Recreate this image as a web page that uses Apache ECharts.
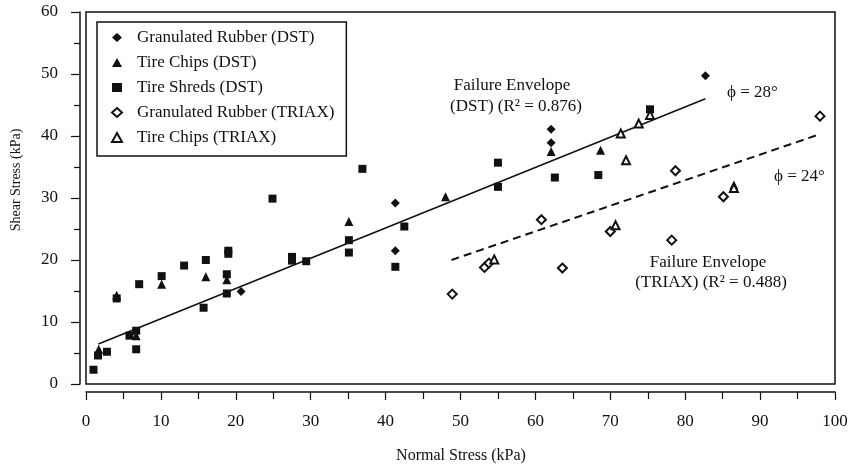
<!DOCTYPE html>
<html><head><meta charset="utf-8">
<script src="https://cdn.jsdelivr.net/npm/echarts@6/dist/echarts.min.js"></script>
<style>html,body{margin:0;padding:0;background:#fff}#c{width:858px;height:467px}</style>
</head><body><div id="c"></div>
<script>
// Data (Normal Stress kPa, Shear Stress kPa)
var seriesNames = ['Granulated Rubber (DST)','Tire Chips (DST)','Tire Shreds (DST)','Granulated Rubber (TRIAX)','Tire Chips (TRIAX)'];
var grDST = [[20.7,14.9],[41.3,29.2],[41.3,21.5],[62.1,41.1],[62.1,38.9],[82.7,49.7]];
var tcDST = [[1.7,5.6],[4.1,14.3],[6.7,7.8],[10.1,16.1],[16.0,17.3],[18.8,16.8],[35.1,26.2],[48.0,30.2],[62.1,37.5],[68.7,37.7],[86.5,32.1]];
var tsDST = [[1.0,2.3],[1.6,4.6],[2.8,5.2],[4.1,13.8],[5.8,7.8],[6.7,8.6],[6.7,5.6],[7.1,16.1],[10.1,17.4],[13.1,19.1],[15.7,12.3],[16.0,20.0],[19.0,21.5],[19.0,21.0],[18.8,17.7],[18.8,14.6],[24.9,29.9],[27.5,20.5],[27.5,19.9],[29.4,19.8],[35.1,23.2],[35.1,21.2],[36.9,34.7],[41.3,18.9],[42.5,25.4],[55.0,35.7],[55.0,31.8],[62.6,33.3],[68.4,33.7],[75.3,44.3]];
var grTRIAX = [[48.9,14.5],[53.2,18.8],[53.8,19.5],[60.8,26.5],[63.6,18.7],[70.0,24.6],[78.2,23.2],[78.7,34.4],[85.1,30.2],[98.0,43.2]];
var tcTRIAX = [[54.5,20.1],[70.7,25.6],[71.4,40.4],[72.1,36.1],[73.8,42.0],[75.3,43.4],[86.5,31.6]];
var dstFitX = [1.65, 82.7], dstFitY = [6.45, 46.0];
var triaxFitX = [48.8, 98.0], triaxFitY = [20.0, 40.3];
var xTicks = {min:0, max:100, step:10};
var yTicks = {min:0, max:60, step:10};

function pairs(xs, ys){ return xs.map(function(x,i){ return [x, ys[i]]; }); }
var FONT = '"Liberation Serif","Times New Roman",serif';
var INK = '#111';
var chart = echarts.init(document.getElementById('c'));
function sc(name, data, symbol, size){
  var empty = symbol.indexOf('empty')===0;
  return {name:name, type:'scatter', data:data, symbol:symbol, symbolSize:size,
    itemStyle:{color:INK, borderColor:INK, borderWidth: empty?1.1:0, opacity:1}, z:3};
}
chart.setOption({
  animation:false,
  backgroundColor:'#fff',
  grid:{left:86, right:23, top:12, bottom:83, show:true, borderColor:INK, borderWidth:1.5, backgroundColor:'transparent'},
  xAxis:{type:'value', min:xTicks.min, max:xTicks.max, interval:xTicks.step, offset:8,
    axisLine:{show:true, onZero:false, lineStyle:{color:INK, width:1.5}},
    axisTick:{show:true, inside:false, length:8, lineStyle:{color:INK, width:1.2}},
    minorTick:{show:true, splitNumber:2, length:7, lineStyle:{color:INK, width:1.2}},
    splitLine:{show:false}, minorSplitLine:{show:false},
    axisLabel:{color:INK, fontFamily:FONT, fontSize:17, margin:21}},
  yAxis:{type:'value', min:yTicks.min, max:yTicks.max, interval:yTicks.step, offset:6,
    axisLine:{show:true, onZero:false, lineStyle:{color:INK, width:1.5}},
    axisTick:{show:true, inside:false, length:9, lineStyle:{color:INK, width:1.2}},
    minorTick:{show:true, splitNumber:2, length:6, lineStyle:{color:INK, width:1.2}},
    splitLine:{show:false}, minorSplitLine:{show:false},
    axisLabel:{color:INK, fontFamily:FONT, fontSize:17, margin:22}},
  legend:{data:seriesNames, orient:'vertical', left:97, top:22,
    padding:[7,12,10,14], itemWidth:10, itemHeight:9, itemGap:8,
    borderColor:INK, borderWidth:1.5, backgroundColor:'#fff',
    textStyle:{color:INK, fontFamily:FONT, fontSize:17, lineHeight:16, padding:[0,0,0,10]}},
  series:[
    sc(seriesNames[0], grDST, 'diamond', 9),
    sc(seriesNames[1], tcDST, 'triangle', 9),
    sc(seriesNames[2], tsDST, 'rect', 8),
    sc(seriesNames[3], grTRIAX, 'emptyDiamond', 9),
    sc(seriesNames[4], tcTRIAX, 'emptyTriangle', 8),
    {name:'DST fit', type:'line', data:pairs(dstFitX, dstFitY), symbol:'none', lineStyle:{color:INK, width:1.6}, z:2},
    {name:'TRIAX fit', type:'line', data:pairs(triaxFitX, triaxFitY), symbol:'none', lineStyle:{color:INK, width:2, type:[8,5]}, z:2}
  ],
  graphic:[
    {type:'text', x:512, y:86, style:{text:'Failure Envelope', font:'17px '+FONT, fill:INK, align:'center', verticalAlign:'middle'}},
    {type:'text', x:516, y:107, style:{text:'(DST) (R² = 0.876)', font:'17px '+FONT, fill:INK, align:'center', verticalAlign:'middle'}},
    {type:'text', x:727, y:93, style:{text:'ϕ = 28°', font:'17px '+FONT, fill:INK, align:'left', verticalAlign:'middle'}},
    {type:'text', x:774, y:177, style:{text:'ϕ = 24°', font:'17px '+FONT, fill:INK, align:'left', verticalAlign:'middle'}},
    {type:'text', x:708, y:263, style:{text:'Failure Envelope', font:'17px '+FONT, fill:INK, align:'center', verticalAlign:'middle'}},
    {type:'text', x:711, y:283, style:{text:'(TRIAX) (R² = 0.488)', font:'17px '+FONT, fill:INK, align:'center', verticalAlign:'middle'}},
    {type:'text', x:461, y:456, style:{text:'Normal Stress (kPa)', font:'16px '+FONT, fill:INK, align:'center', verticalAlign:'middle'}},
    {type:'text', x:16, y:180, rotation:Math.PI/2, style:{text:'Shear Stress (kPa)', font:'14px '+FONT, fill:INK, align:'center', verticalAlign:'middle'}}
  ]
});
</script></body></html>
